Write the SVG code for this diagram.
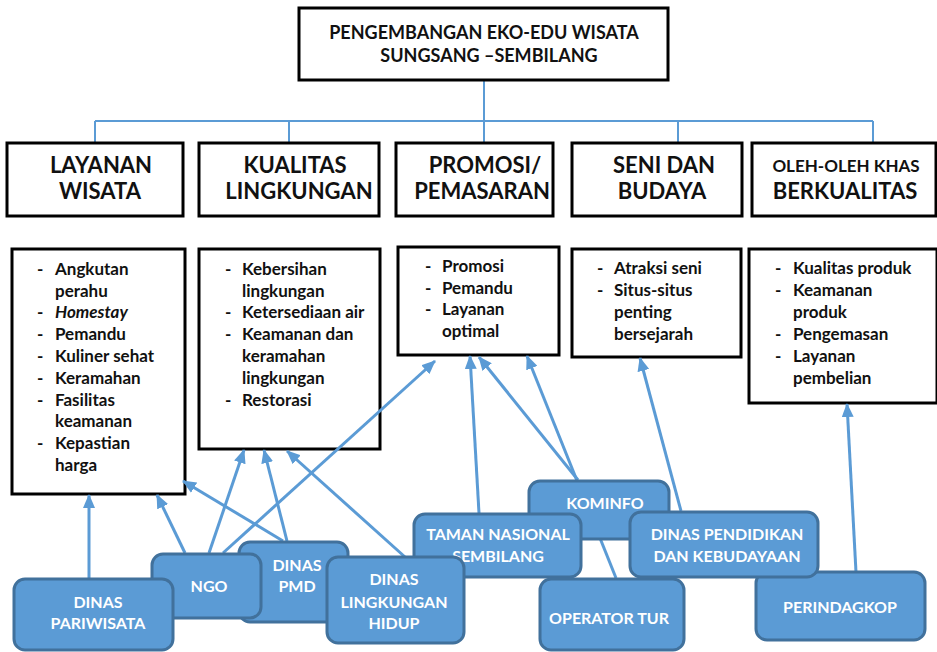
<svg xmlns="http://www.w3.org/2000/svg" width="937" height="652" viewBox="0 0 937 652">
<style>
.box{fill:#fff;stroke:#000;stroke-width:3}
.hd{font-family:Lato,"Liberation Sans",sans-serif;font-weight:700;font-size:22px;fill:#111;text-anchor:middle}
.tt{font-family:Lato,"Liberation Sans",sans-serif;font-weight:700;font-size:18px;fill:#111;text-anchor:middle}
.li{font-family:Lato,"Liberation Sans",sans-serif;font-weight:700;font-size:17px;fill:#111}
.tree{fill:none;stroke:#5b9bd5;stroke-width:2}
.arr{fill:none;stroke:#5b9bd5;stroke-width:3;marker-end:url(#ah)}
.nd{fill:#5b9bd5;stroke:#41719c;stroke-width:3}
.nt{font-family:Lato,"Liberation Sans",sans-serif;font-weight:700;font-size:16px;fill:#fff;text-anchor:middle}
</style>
<defs>
<marker id="ah" markerUnits="userSpaceOnUse" markerWidth="14" markerHeight="12" refX="13" refY="6" orient="auto">
<path d="M0,0 L14,6 L0,12 z" fill="#5b9bd5"/>
</marker>
</defs>

<g id="tree-connectors">
<path class="tree" d="M484,80 V121 M95,121 H873 M95,121 V143 M289,121 V143 M484,121 V143 M678,121 V143 M873,121 V143"/>
</g>

<g id="title">
<rect class="box" x="299" y="8" width="369" height="72"/>
<text class="tt" x="484" y="39">PENGEMBANGAN EKO-EDU WISATA</text>
<text class="tt" x="489" y="62">SUNGSANG –SEMBILANG</text>
</g>

<g id="h-layanan">
<rect class="box" x="7" y="143" width="176" height="73"/>
<text class="hd" x="101" y="173">LAYANAN</text>
<text class="hd" x="100" y="199">WISATA</text>
</g>
<g id="h-kualitas">
<rect class="box" x="199" y="143" width="180" height="73"/>
<text class="hd" x="295" y="173">KUALITAS</text>
<text class="hd" x="299" y="199">LINGKUNGAN</text>
</g>
<g id="h-promosi">
<rect class="box" x="396" y="143" width="157" height="73"/>
<text class="hd" x="485" y="173">PROMOSI/</text>
<text class="hd" x="482" y="199">PEMASARAN</text>
</g>
<g id="h-seni">
<rect class="box" x="572" y="143" width="170" height="73"/>
<text class="hd" x="664" y="173">SENI DAN</text>
<text class="hd" x="662" y="199">BUDAYA</text>
</g>
<g id="h-oleh">
<rect class="box" x="752" y="143" width="184" height="73"/>
<text class="hd" x="846" y="172" style="font-size:17px">OLEH-OLEH KHAS</text>
<text class="hd" x="845" y="199">BERKUALITAS</text>
</g>

<g id="l-layanan">
<rect class="box" x="12" y="249" width="173" height="245"/>
<g class="li">
<text x="37" y="275">-</text><text x="55" y="275">Angkutan</text>
<text x="55" y="297">perahu</text>
<text x="37" y="318">-</text><text x="55" y="318" font-style="italic">Homestay</text>
<text x="37" y="340">-</text><text x="55" y="340">Pemandu</text>
<text x="37" y="362">-</text><text x="55" y="362">Kuliner sehat</text>
<text x="37" y="384">-</text><text x="55" y="384">Keramahan</text>
<text x="37" y="406">-</text><text x="55" y="406">Fasilitas</text>
<text x="55" y="427">keamanan</text>
<text x="37" y="449">-</text><text x="55" y="449">Kepastian</text>
<text x="55" y="471">harga</text>
</g>
</g>
<g id="l-kualitas">
<rect class="box" x="199" y="249" width="181" height="200"/>
<g class="li">
<text x="225" y="275">-</text><text x="242" y="275">Kebersihan</text>
<text x="242" y="297">lingkungan</text>
<text x="225" y="318">-</text><text x="242" y="318">Ketersediaan air</text>
<text x="225" y="340">-</text><text x="242" y="340">Keamanan dan</text>
<text x="242" y="362">keramahan</text>
<text x="242" y="384">lingkungan</text>
<text x="225" y="406">-</text><text x="242" y="406">Restorasi</text>
</g>
</g>
<g id="l-promosi">
<rect class="box" x="398" y="247" width="161" height="108"/>
<g class="li">
<text x="425" y="272">-</text><text x="442" y="272">Promosi</text>
<text x="425" y="294">-</text><text x="442" y="294">Pemandu</text>
<text x="425" y="315">-</text><text x="442" y="315">Layanan</text>
<text x="442" y="337">optimal</text>
</g>
</g>
<g id="l-seni">
<rect class="box" x="572" y="249" width="169" height="108"/>
<g class="li">
<text x="597" y="274">-</text><text x="614" y="274">Atraksi seni</text>
<text x="597" y="296">-</text><text x="614" y="296">Situs-situs</text>
<text x="614" y="318">penting</text>
<text x="614" y="340">bersejarah</text>
</g>
</g>
<g id="l-oleh">
<rect class="box" x="749" y="249" width="188" height="154"/>
<g class="li">
<text x="775" y="274">-</text><text x="793" y="274">Kualitas produk</text>
<text x="775" y="296">-</text><text x="793" y="296">Keamanan</text>
<text x="793" y="318">produk</text>
<text x="775" y="340">-</text><text x="793" y="340">Pengemasan</text>
<text x="775" y="362">-</text><text x="793" y="362">Layanan</text>
<text x="793" y="384">pembelian</text>
</g>
</g>

<g id="connectors">
<line class="arr" x1="89" y1="579" x2="89" y2="495"/>
<line class="arr" x1="185" y1="553" x2="157" y2="495"/>
<line class="arr" x1="209" y1="553" x2="244" y2="450"/>
<line class="arr" x1="223" y1="553" x2="435" y2="361"/>
<line class="arr" x1="283" y1="541" x2="183" y2="481"/>
<line class="arr" x1="287" y1="541" x2="264" y2="450"/>
<line class="arr" x1="405" y1="557" x2="287" y2="451"/>
<line class="arr" x1="479" y1="513" x2="470" y2="356"/>
<line class="arr" x1="578" y1="480" x2="479" y2="357"/>
<line class="arr" x1="616" y1="578" x2="527" y2="356"/>
<line class="arr" x1="681" y1="511" x2="640" y2="358"/>
<line class="arr" x1="856" y1="572" x2="847" y2="404"/>
</g>

<g id="n-kominfo">
<rect class="nd" x="529" y="481" width="140" height="58" rx="11"/>
<text class="nt" x="605" y="509">KOMINFO</text>
</g>
<g id="n-taman">
<rect class="nd" x="414" y="514" width="167" height="63" rx="11"/>
<text class="nt" x="498" y="540">TAMAN NASIONAL</text>
<text class="nt" x="498" y="562">SEMBILANG</text>
</g>
<g id="n-operator">
<rect class="nd" x="540" y="579" width="144" height="71" rx="11"/>
<text class="nt" x="609" y="624">OPERATOR TUR</text>
</g>
<g id="n-perindagkop">
<rect class="nd" x="756" y="572" width="169" height="68" rx="11"/>
<text class="nt" x="840" y="613">PERINDAGKOP</text>
</g>
<g id="n-pendidikan">
<rect class="nd" x="630" y="512" width="188" height="65" rx="11"/>
<text class="nt" x="727" y="540">DINAS PENDIDIKAN</text>
<text class="nt" x="727" y="562">DAN KEBUDAYAAN</text>
</g>
<g id="n-pmd">
<rect class="nd" x="239" y="542" width="109" height="80" rx="11"/>
<text class="nt" x="297" y="571">DINAS</text>
<text class="nt" x="297" y="592">PMD</text>
</g>
<g id="n-ngo">
<rect class="nd" x="152" y="554" width="109" height="64" rx="11"/>
<text class="nt" x="209" y="592">NGO</text>
</g>
<g id="n-pariwisata">
<rect class="nd" x="14" y="579" width="159" height="71" rx="11"/>
<text class="nt" x="98" y="608">DINAS</text>
<text class="nt" x="98" y="629">PARIWISATA</text>
</g>
<g id="n-lh">
<rect class="nd" x="327" y="557" width="137" height="86" rx="11"/>
<text class="nt" x="394" y="585">DINAS</text>
<text class="nt" x="394" y="608">LINGKUNGAN</text>
<text class="nt" x="394" y="629">HIDUP</text>
</g>
</svg>
